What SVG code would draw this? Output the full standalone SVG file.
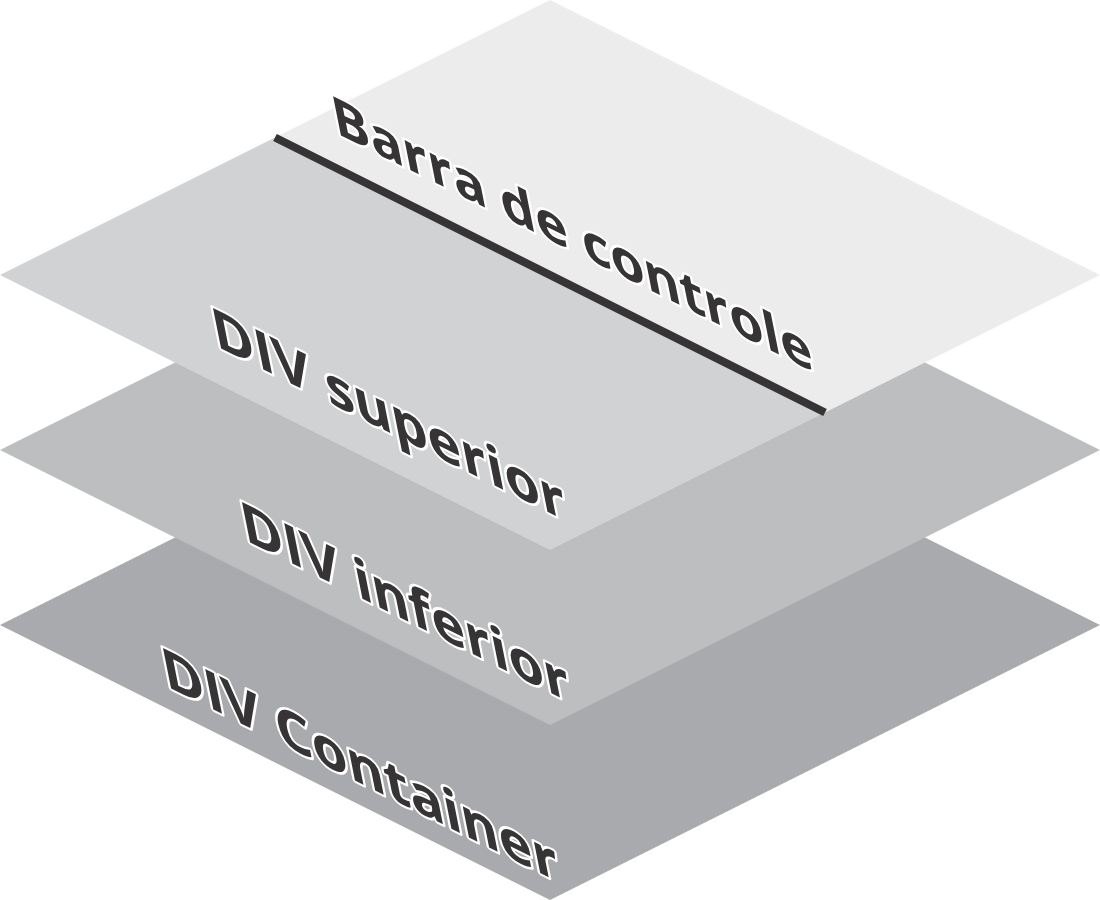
<svg xmlns="http://www.w3.org/2000/svg" width="1100" height="900" viewBox="0 0 1100 900">
  <style>
    .lbl { font-family: "Open Sans", "Liberation Sans", sans-serif; font-weight: 700; font-size: 57px; fill: #363435; stroke: #ffffff; stroke-width: 5px; stroke-linejoin: round; paint-order: stroke fill; }
    .bar { font-size: 55px; }
  </style>
  <rect x="0" y="0" width="1100" height="900" fill="#ffffff"/>
  <g id="div-container">
    <polygon points="550,350 1100,625 550,900 0,625" fill="#a9aaad"/>
    <text class="lbl" transform="matrix(1,0.5,0.2,1,166,686)">DIV Container</text>
  </g>
  <g id="div-inferior">
    <polygon points="550,175 1100,450 550,725 0,450" fill="#bdbec0"/>
    <text class="lbl" transform="matrix(1,0.5,0.2,1,245,540)">DIV inferior</text>
  </g>
  <g id="div-superior">
    <polygon points="275,137.5 825,412.5 550,550 0,275" fill="#d1d2d4"/>
    <text class="lbl" transform="matrix(1,0.5,0.2,1,216,346)">DIV superior</text>
  </g>
  <g id="barra-de-controle">
    <polygon points="550,0 1100,275 825,412.5 275,137.5" fill="#ececec"/>
    <text class="lbl bar" transform="matrix(1,0.5,0.2,1,336,133)">Barra de controle</text>
  </g>
  <g id="connectors">
    <line x1="275" y1="137.5" x2="825" y2="412.5" stroke="#363435" stroke-width="8"/>
  </g>
</svg>
